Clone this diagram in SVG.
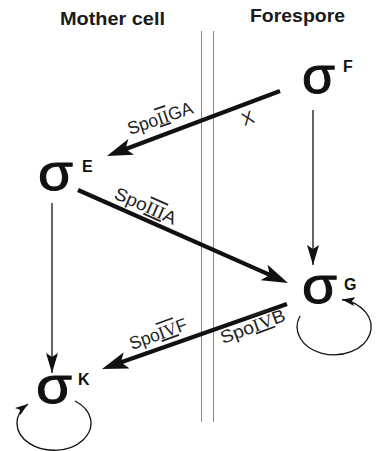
<svg xmlns="http://www.w3.org/2000/svg" width="376" height="451" viewBox="0 0 376 451">
<style>
.title{font-family:"Liberation Sans",Arial,sans-serif;font-weight:bold;font-size:19px;fill:#1a1a1a}
.sig{font-family:"Liberation Sans",Arial,sans-serif;font-weight:normal;font-size:52px;fill:#111;stroke:#111;stroke-width:1}
.sup{font-family:"Liberation Sans",Arial,sans-serif;font-weight:bold;font-size:16px;fill:#111}
.lab{font-family:"Liberation Sans",Arial,sans-serif;font-size:18px;fill:#222}
.rn{font-family:"Liberation Serif",serif;text-decoration:overline underline}
.thick{stroke:#111;stroke-width:4.2;fill:none}
.thin{stroke:#111;stroke-width:1.3;fill:none}
.mem{stroke:#888;stroke-width:1;fill:none}
</style>
<defs>
<marker id="big" markerUnits="userSpaceOnUse" viewBox="0 0 26 17" refX="8" refY="8.5" markerWidth="26" markerHeight="17" orient="auto">
<path d="M0,0 L26,8.5 L0,17 L6,8.5 z" fill="#111"/>
</marker>
<marker id="slim" markerUnits="userSpaceOnUse" viewBox="0 0 20 12" refX="20" refY="6" markerWidth="20" markerHeight="12" orient="auto">
<path d="M0,0 L20,6 L0,12 L4,6 z" fill="#111"/>
</marker>
<marker id="tiny" markerUnits="userSpaceOnUse" viewBox="0 0 13 9" refX="13" refY="4.5" markerWidth="13" markerHeight="9" orient="auto">
<path d="M0,0 L13,4.5 L0,9 L3,4.5 z" fill="#111"/>
</marker>
</defs>

<g id="headers">
<text class="title" x="60" y="25" textLength="105" lengthAdjust="spacingAndGlyphs">Mother cell</text>
<text class="title" x="250" y="22" textLength="95" lengthAdjust="spacingAndGlyphs">Forespore</text>
</g>

<g id="membrane">
<line class="mem" x1="201.5" y1="31" x2="201.5" y2="422"/>
<line class="mem" x1="213.5" y1="31" x2="213.5" y2="422"/>
</g>

<g id="connectors">
<path class="thick" d="M280,91 L123.8,149.7" marker-end="url(#big)"/>
<path class="thick" d="M78,190 L271.5,275.7" marker-end="url(#big)"/>
<path class="thick" d="M287,304 L119,363" marker-end="url(#big)"/>
<path class="thin" d="M313,110 L313,265" marker-end="url(#slim)"/>
<path class="thin" d="M52,203 L52,373" marker-end="url(#slim)"/>
<path class="thin" d="M300,316 A37,28 0 1 0 342,299.5" marker-end="url(#tiny)"/>
<path class="thin" d="M75,401 A37,27 0 1 1 28,404" marker-end="url(#tiny)"/>
<text class="lab" transform="translate(130,135) rotate(-19)" textLength="68" lengthAdjust="spacingAndGlyphs">Spo<tspan class="rn">II</tspan>GA</text>
<text class="lab" transform="translate(250,124) rotate(-20)" text-anchor="middle">X</text>
<text class="lab" transform="translate(113,198) rotate(24)" textLength="66" lengthAdjust="spacingAndGlyphs">Spo<tspan class="rn">III</tspan>A</text>
<text class="lab" transform="translate(132,350) rotate(-20)" textLength="60" lengthAdjust="spacingAndGlyphs">Spo<tspan class="rn">IV</tspan>F</text>
<text class="lab" transform="translate(223,344) rotate(-20.5)" textLength="68" lengthAdjust="spacingAndGlyphs">Spo<tspan class="rn">IV</tspan>B</text>
</g>

<g id="sigmaF">
<text class="sig" x="302" y="93" textLength="33" lengthAdjust="spacingAndGlyphs">σ</text>
<text class="sup" x="343" y="72">F</text>
</g>
<g id="sigmaE">
<text class="sig" x="38" y="190" textLength="35" lengthAdjust="spacingAndGlyphs">σ</text>
<text class="sup" x="82" y="172">E</text>
</g>
<g id="sigmaG">
<text class="sig" x="302" y="303" textLength="35" lengthAdjust="spacingAndGlyphs">σ</text>
<text class="sup" x="344" y="290">G</text>
</g>
<g id="sigmaK">
<text class="sig" x="36" y="403" textLength="36" lengthAdjust="spacingAndGlyphs">σ</text>
<text class="sup" x="78" y="385">K</text>
</g>
</svg>
